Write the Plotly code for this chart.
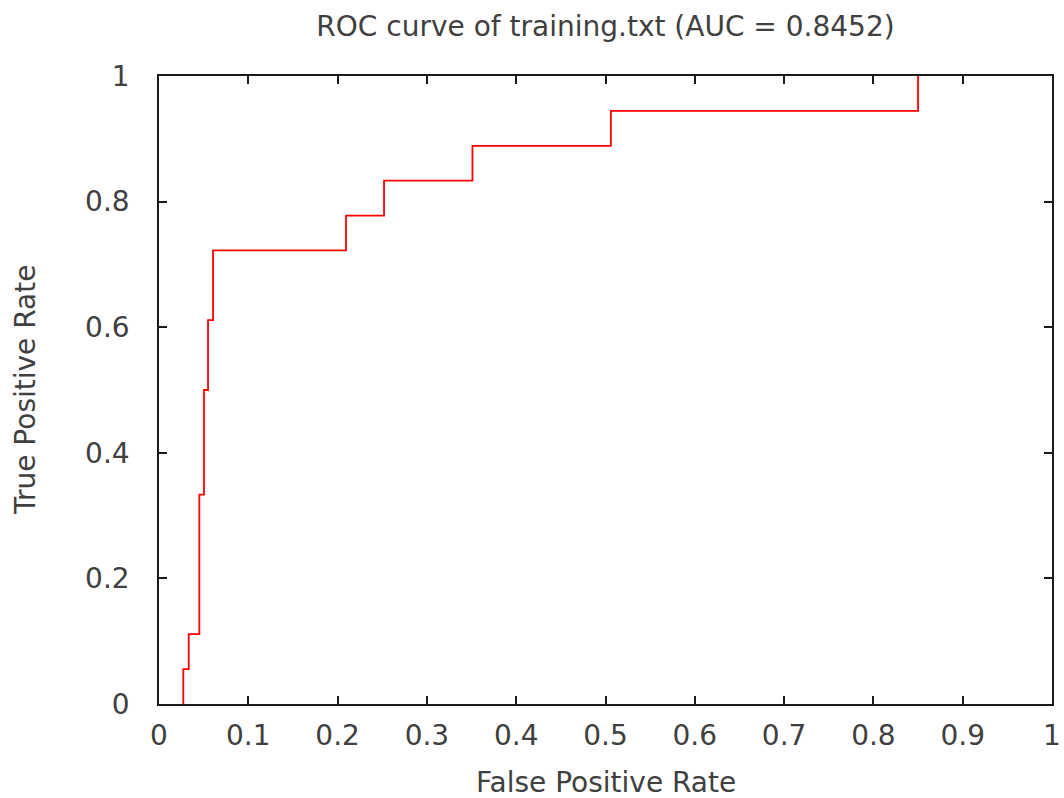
import plotly.graph_objects as go

# ROC curve vertices (step: vertical then horizontal)
fpr = [0.0272, 0.0333, 0.0452, 0.0504, 0.0549, 0.0605, 0.2094, 0.2520, 0.3510, 0.5060, 0.8500, 0.8500]
tpr = [0.0, 1/18, 2/18, 6/18, 9/18, 11/18, 13/18, 14/18, 15/18, 16/18, 17/18, 1.0]

title_text = "ROC curve of training.txt (AUC = 0.8452)"
x_label = "False Positive Rate"
y_label = "True Positive Rate"

FONT = "DejaVu Sans"
FS = 28
TXT = "#404040"

L, R, T, B = 159, 1052, 76, 704
W, H = 1064, 798

fig = go.Figure()
fig.add_trace(go.Scatter(x=fpr, y=tpr, mode="lines", line=dict(color="#ff0000", width=1.8, shape="vh"),
                         showlegend=False, hoverinfo="skip"))

axis_common = dict(showline=True, linecolor="#1a1a1a", linewidth=1.6, mirror="ticks",
                   ticks="inside", ticklen=8, tickwidth=1.6, tickcolor="#1a1a1a",
                   showgrid=False, zeroline=False, automargin=False,
                   tickfont=dict(family=FONT, size=FS, color=TXT))

fig.update_layout(
    width=W, height=H,
    paper_bgcolor="white", plot_bgcolor="white",
    margin=dict(l=L, r=W - R, t=T, b=H - B),
    title=dict(text=title_text, x=(L + R) / 2 / W, xanchor="center",
               y=1 - 26 / H, yanchor="middle",
               font=dict(family=FONT, size=FS, color=TXT)),
    xaxis=dict(range=[0, 1], dtick=0.1, tick0=0, ticklabelstandoff=6, **axis_common),
    yaxis=dict(range=[0, 1], dtick=0.2, tick0=0, ticklabelstandoff=22, **axis_common),
    annotations=[
        dict(text=x_label, xref="paper", yref="paper", x=0.5, y=-(782 - B) / (B - T),
             xanchor="center", yanchor="middle", showarrow=False,
             font=dict(family=FONT, size=FS, color=TXT)),
        dict(text=y_label, xref="paper", yref="paper", x=-(L - 25) / (R - L), y=0.5,
             xanchor="center", yanchor="middle", showarrow=False, textangle=-90,
             font=dict(family=FONT, size=FS, color=TXT)),
    ],
)

fig.write_html("out.html", config={"displayModeBar": False},
               post_script="document.body.style.margin='0';document.body.style.padding='0';"
                           "document.body.style.overflow='hidden';")
